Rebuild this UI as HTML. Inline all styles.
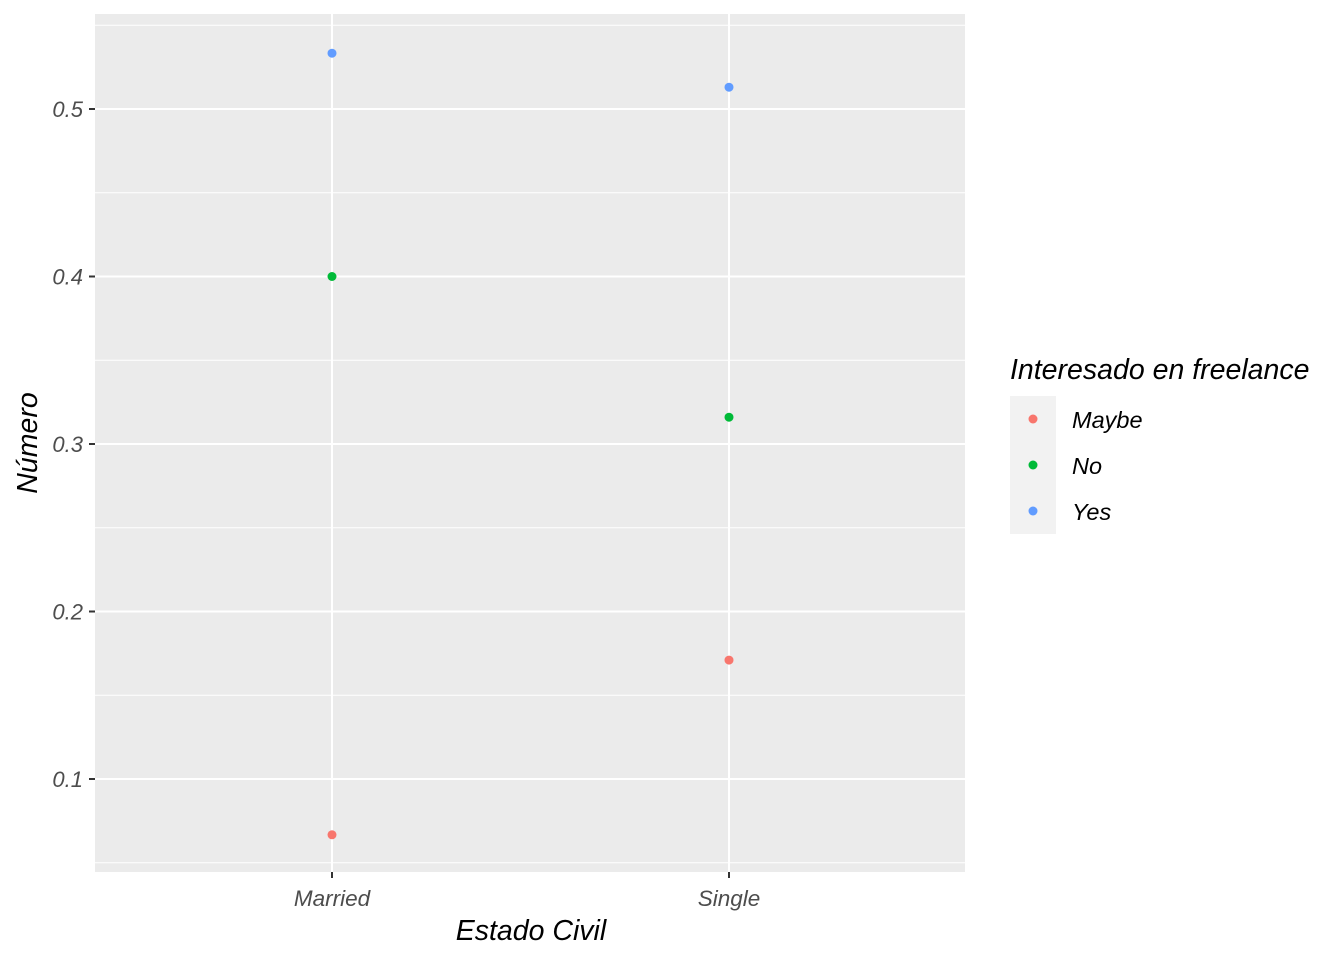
<!DOCTYPE html>
<html><head><meta charset="utf-8"><style>body{margin:0;background:#fff}svg{display:block}text{font-family:"Liberation Sans",sans-serif;font-style:italic}</style></head>
<body>
<svg id="chart" width="1344" height="960" viewBox="0 0 1344 960">
<g id="plot"></g>
</svg>
<script>
const categories = ["Married","Single"];
const seriesNames = ["Maybe","No","Yes"];
const maybeValues = [0.0667, 0.171];
const noValues = [0.4, 0.316];
const yesValues = [0.5333, 0.513];
const yTicks = [0.1,0.2,0.3,0.4,0.5];
const yTickLabels = ["0.1","0.2","0.3","0.4","0.5"];
const colors = ["#F8766D","#00BA38","#619CFF"];
const NS="http://www.w3.org/2000/svg";
const g=document.getElementById('plot');
const L=95,R=965,T=14,B=872;
function y(v){return 779-(v-0.1)*1675;}
function x(i){return 332+i*397;}
function mk(t,a,p){const e=document.createElementNS(NS,t);for(const k in a)e.setAttribute(k,a[k]);(p||g).appendChild(e);return e;}
const bg=mk('rect',{x:L,y:T,width:R-L,height:B-T,fill:'#EBEBEB'});


for(let i=0;i<yTicks.length+1;i++){const v=yTicks[0]-0.05+i*0.1;
 const l=mk('line',{x1:L,x2:R,y1:y(v),y2:y(v),stroke:'#fff','stroke-width':1});
 
 }
yTicks.forEach((v,i)=>{
 const l=mk('line',{x1:L,x2:R,y1:y(v),y2:y(v),stroke:'#fff','stroke-width':2});
 
 
 const tk=mk('line',{x1:89,x2:95,y1:y(v),y2:y(v),stroke:'#333','stroke-width':2});
 
 
 const t=mk('text',{x:83,y:y(v)+8,'text-anchor':'end','font-size':22,fill:'#4D4D4D'});t.textContent=yTickLabels[i];
 
 
});
categories.forEach((c,i)=>{
 const l=mk('line',{x1:x(i),x2:x(i),y1:T,y2:B,stroke:'#fff','stroke-width':2});
 
 
 const tk=mk('line',{x1:x(i),x2:x(i),y1:B,y2:B+6,stroke:'#333','stroke-width':2});
 
 
 const t=mk('text',{x:x(i),y:906,'text-anchor':'middle','font-size':22.5,fill:'#4D4D4D'});t.textContent=c;
 
 
});
[maybeValues,noValues,yesValues].forEach((vals,s)=>vals.forEach((v,i)=>{
 const p=mk('circle',{cx:x(i),cy:y(v),r:4.5,fill:colors[s]});
 
 
}));
let t=mk('text',{x:531,y:940,'text-anchor':'middle','font-size':28.5,fill:'#000'});t.textContent='Estado Civil';


t=mk('text',{x:0,y:0,'text-anchor':'middle','font-size':28.5,fill:'#000',transform:'translate(37,443) rotate(-90)'});t.textContent='Número';


t=mk('text',{x:1010,y:379,'font-size':28.5,fill:'#000'});t.textContent='Interesado en freelance';


seriesNames.forEach((n,s)=>{
 const yy=396+s*46;
 const r=mk('rect',{x:1010,y:yy,width:46,height:46,fill:'#F2F2F2'});
 
 
 const c=mk('circle',{cx:1033,cy:yy+23,r:4.5,fill:colors[s]});
 
 
 const tx=mk('text',{x:1072,y:yy+32,'font-size':23.5,fill:'#000'});tx.textContent=n;
 
 
});
</script>
</body></html>
